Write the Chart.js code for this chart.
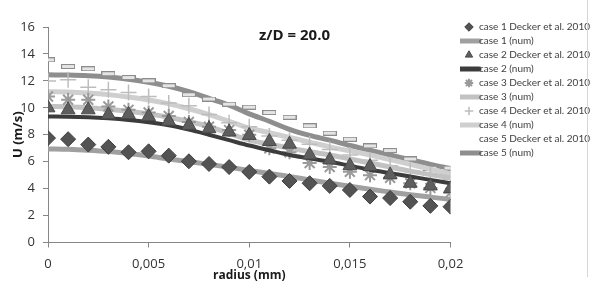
<!DOCTYPE html>
<html lang="fr">
<head>
    <meta charset="UTF-8">
    <title>z/D = 20.0</title>
    <script src="https://cdn.jsdelivr.net/npm/chart.js"></script>
    <style>
        html, body { margin: 0; padding: 0; background: #ffffff; }
        #wrap { width: 593px; height: 291px; }
    </style>
</head>
<body>
    <div id="wrap"><canvas id="graphique" width="593" height="291"></canvas></div>

    <script>
        // Données
        const radius = [0, 0.001, 0.002, 0.003, 0.004, 0.005, 0.006, 0.007, 0.008, 0.009, 0.010,
                        0.011, 0.012, 0.013, 0.014, 0.015, 0.016, 0.017, 0.018, 0.019, 0.020];

        const case1Exp = [7.75, 7.67, 7.27, 7.1, 6.7, 6.77, 6.45, 6.03, 5.83, 5.6, 5.24, 4.89, 4.57, 4.4, 4.2, 3.9, 3.41, 3.3, 3.03, 2.72, 2.66];
        const case1Num = [6.95, 6.92, 6.85, 6.75, 6.6, 6.42, 6.2, 6.0, 5.8, 5.58, 5.35, 5.12, 4.9, 4.65, 4.4, 4.17, 3.95, 3.75, 3.55, 3.37, 3.2];
        const case2Exp = [10.0, 9.85, 9.85, 9.48, 9.5, 9.35, 9.0, 8.7, 8.45, 8.2, 7.95, 7.5, 7.3, 6.5, 6.13, 5.7, 5.64, 5.02, 4.4, 4.2, 4.0];
        const case2Num = [9.35, 9.34, 9.3, 9.22, 9.1, 8.93, 8.7, 8.38, 8.0, 7.6, 7.2, 6.85, 6.5, 6.25, 6.0, 5.7, 5.4, 5.15, 4.9, 4.65, 4.4];
        const case3Exp = [10.84, 10.6, 10.6, 10.1, 9.85, 9.65, 9.4, 8.95, 8.6, 8.35, 8.0, 7.0, 6.7, 5.9, 5.6, 5.25, 5.0, 4.8, 4.4, 4.05, 3.7];
        const case3Num = [10.1, 10.08, 10.0, 9.9, 9.75, 9.55, 9.3, 8.98, 8.6, 8.1, 7.6, 7.3, 7.0, 6.75, 6.5, 6.2, 5.9, 5.6, 5.3, 5.05, 4.8];
        const case4Exp = [12.0, 12.08, 11.53, 11.34, 11.14, 10.84, 10.35, 10.15, 9.5, 8.9, 8.6, 7.9, 7.6, 7.3, 6.9, 6.5, 6.1, 5.7, 5.3, 5.0, 4.7];
        const case4Num = [11.2, 11.18, 11.1, 10.98, 10.8, 10.58, 10.3, 9.93, 9.5, 9.0, 8.5, 8.15, 7.8, 7.45, 7.1, 6.8, 6.5, 6.15, 5.8, 5.45, 5.1];
        const case5Exp = [13.56, 13.07, 12.9, 12.53, 12.25, 12.0, 11.64, 10.97, 10.65, 10.27, 10.05, 9.65, 9.3, 8.66, 8.12, 7.67, 7.17, 6.83, 6.2, 5.51, 5.53];
        const case5Num = [12.45, 12.43, 12.38, 12.28, 12.12, 11.9, 11.6, 11.2, 10.7, 10.2, 9.55, 9.0, 8.4, 7.95, 7.6, 7.2, 6.85, 6.5, 6.15, 5.8, 5.5];

        const seriesNames = [
            'case 1 Decker et al. 2010', 'case 1 (num)',
            'case 2 Decker et al. 2010', 'case 2 (num)',
            'case 3 Decker et al. 2010', 'case 3 (num)',
            'case 4 Decker et al. 2010', 'case 4 (num)',
            'case 5 Decker et al. 2010', 'case 5 (num)'
        ];

        const xTicks = [0, 0.005, 0.01, 0.015, 0.02];
        const xTickLabels = ['0', '0,005', '0,01', '0,015', '0,02'];
        const chartTitle = 'z/D = 20.0';

        const FONT = "'Open Sans', 'Liberation Sans', sans-serif";
        const LEGEND_FONT = "Lato, 'Open Sans', sans-serif";
        const LEGEND_SIZE = 10;
        const LEGEND_PAD = 4;
        const PLOT_RIGHT = 449.5;   // bord droit de la zone de tracé
        const LEGEND_LEFT = 460;    // début de la légende

        function pts(ys) {
            return ys.map((y, i) => ({ x: radius[i], y: y }));
        }

        // largeur de la légende (Chart.js ajoute 10 px) -> marge droite
        const meas = document.createElement('canvas').getContext('2d');
        meas.font = LEGEND_SIZE + 'px ' + LEGEND_FONT;
        const textW = Math.max(...seriesNames.map(s => meas.measureText(s).width));
        const legendW = LEGEND_PAD + 11 + LEGEND_SIZE / 2 + textW + 10;
        const rightPad = Math.max(0, 593 - PLOT_RIGHT - legendW);

        // petit tiret (marqueur du cas 5)
        function dashMarker() {
            const c = document.createElement('canvas');
            c.width = 14; c.height = 5;
            const g = c.getContext('2d');
            g.fillStyle = '#e4e4e4';
            g.fillRect(0.5, 0.5, 13, 4);
            g.strokeStyle = '#8c8c8c';
            g.lineWidth = 1;
            g.strokeRect(0.5, 0.5, 13, 4);
            return c;
        }

        // trait épais pour la légende des courbes numériques
        function legendLine(color) {
            const c = document.createElement('canvas');
            c.width = 26; c.height = 7;
            const g = c.getContext('2d');
            g.strokeStyle = color;
            g.lineWidth = 5;
            g.lineCap = 'round';
            g.beginPath();
            g.moveTo(3, 3.5);
            g.lineTo(23, 3.5);
            g.stroke();
            return c;
        }

        function blank() {
            const c = document.createElement('canvas');
            c.width = 1; c.height = 1;
            return c;
        }

        function expSet(name, ys, style, fill, border, r, bw) {
            return {
                label: name, data: pts(ys), showLine: false,
                pointStyle: style, pointRadius: r, pointHoverRadius: r,
                backgroundColor: fill, borderColor: border, borderWidth: bw
            };
        }

        function numSet(name, ys, color, w) {
            return {
                label: name, data: pts(ys), showLine: true,
                borderColor: color, backgroundColor: color, borderWidth: w,
                pointRadius: 0, tension: 0.4, cubicInterpolationMode: 'monotone',
                legendImg: legendLine(color)
            };
        }

        const datasets = [
            expSet(seriesNames[0], case1Exp, 'rectRot', '#535353', '#3e3e3e', 7.5, 1),
            numSet(seriesNames[1], case1Num, '#a0a0a0', 5),
            expSet(seriesNames[2], case2Exp, 'triangle', '#5e5e5e', '#4a4a4a', 8, 1),
            numSet(seriesNames[3], case2Num, '#3c3c3c', 4),
            expSet(seriesNames[4], case3Exp, 'star', '#9a9a9a', '#9a9a9a', 7, 2),
            numSet(seriesNames[5], case3Num, '#c2c2c2', 5),
            expSet(seriesNames[6], case4Exp, 'cross', '#bdbdbd', '#bdbdbd', 8, 1.5),
            numSet(seriesNames[7], case4Num, '#cfcfcf', 5),
            expSet(seriesNames[8], case5Exp, dashMarker(), '#e4e4e4', '#8c8c8c', 7, 1),
            numSet(seriesNames[9], case5Num, '#8e8e8e', 5)
        ];

        // titre dans la zone du graphique + bord droit du cadre + placement de la légende
        const extras = {
            id: 'extras',
            afterLayout(chart) {
                const lg = chart.legend;
                const dx = LEGEND_LEFT - lg.left, dy = -9;
                lg.left += dx; lg.right += dx;
                lg.top += dy; lg.bottom += dy;
            },
            afterDraw(chart) {
                const ctx = chart.ctx;
                ctx.save();
                ctx.font = "bold 15px " + FONT;
                ctx.fillStyle = '#1a1a1a';
                ctx.textAlign = 'left';
                ctx.textBaseline = 'middle';
                ctx.fillText(chartTitle, 259, 36);
                ctx.strokeStyle = '#d6d6d6';
                ctx.lineWidth = 1;
                ctx.beginPath();
                ctx.moveTo(587.5, 0);
                ctx.lineTo(587.5, 277);
                ctx.stroke();
                ctx.restore();
            }
        };

        const ctx = document.getElementById('graphique').getContext('2d');
        const myChart = new Chart(ctx, {
            type: 'scatter',
            data: { datasets: datasets },
            plugins: [extras],
            options: {
                responsive: false,
                animation: false,
                layout: { padding: { top: 27, left: 0, right: rightPad, bottom: 0 } },
                plugins: {
                    tooltip: { enabled: false },
                    legend: {
                        position: 'right',
                        align: 'start',
                        labels: {
                            usePointStyle: true,
                            boxWidth: 11,
                            boxHeight: 6,
                            padding: LEGEND_PAD,
                            color: '#404040',
                            font: { family: LEGEND_FONT, size: LEGEND_SIZE },
                            generateLabels(chart) {
                                const items = Chart.defaults.plugins.legend.labels.generateLabels(chart);
                                items.forEach((it) => {
                                    const ds = chart.data.datasets[it.datasetIndex];
                                    if (ds.legendImg) it.pointStyle = ds.legendImg;
                                    if (it.datasetIndex === 8) it.pointStyle = blank();
                                });
                                return items;
                            }
                        }
                    }
                },
                scales: {
                    x: {
                        type: 'linear',
                        min: 0,
                        max: 0.02,
                        afterBuildTicks(scale) {
                            scale.ticks = xTicks.map(v => ({ value: v }));
                        },
                        afterFit(scale) { scale.height = 48.5; },
                        ticks: {
                            padding: 9,
                            color: '#333333',
                            font: { family: FONT, size: 13 },
                            callback: (v, i) => xTickLabels[i]
                        },
                        grid: { drawOnChartArea: false, tickLength: 5, color: '#868686' },
                        border: { color: '#868686' },
                        title: {
                            display: true,
                            text: 'radius (mm)',
                            color: '#1a1a1a',
                            font: { family: FONT, size: 12, weight: 'bold' },
                            padding: { top: 0, bottom: 8 }
                        }
                    },
                    y: {
                        min: 0,
                        max: 16,
                        afterFit(scale) { scale.width = 48; },
                        ticks: {
                            stepSize: 2,
                            padding: 8,
                            color: '#333333',
                            font: { family: FONT, size: 13 }
                        },
                        grid: { drawOnChartArea: false, tickLength: 5, color: '#868686' },
                        border: { color: '#868686' },
                        title: {
                            display: true,
                            text: 'U (m/s)',
                            color: '#1a1a1a',
                            font: { family: FONT, size: 13, weight: 'bold' },
                            padding: { top: 10, bottom: 0 }
                        }
                    }
                }
            }
        });
    </script>
</body>
</html>
